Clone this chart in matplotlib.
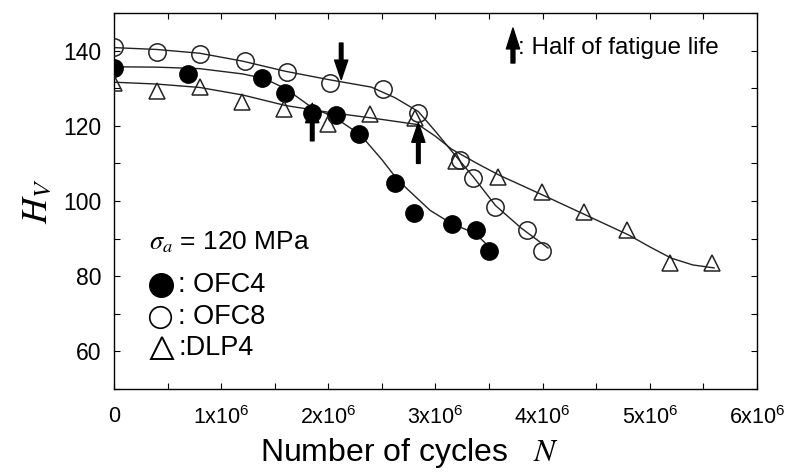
import numpy as np
import matplotlib
matplotlib.use('Agg')
from matplotlib import pyplot as plt
from matplotlib.ticker import MultipleLocator, FixedLocator


# Measured data (N in units of 1e6 cycles)
N_ofc4 = [0, 0.69, 1.38, 1.60, 1.85, 2.07, 2.29, 2.62, 2.80, 3.15, 3.38, 3.50]
Hv_ofc4 = [135.5, 133.9, 132.8, 128.8, 123.5, 122.9, 117.8, 104.8, 96.8, 93.9, 92.3, 86.7]

N_ofc8 = [0, 0.40, 0.80, 1.22, 1.61, 2.02, 2.51, 2.84, 3.23, 3.35, 3.56, 3.85, 3.99]
Hv_ofc8 = [141.0, 139.7, 139.2, 137.3, 134.4, 131.5, 129.8, 123.5, 110.9, 106.2, 98.4, 92.2, 86.7]

N_dlp4 = [0, 0.40, 0.80, 1.19, 1.59, 2.00, 2.39, 2.81, 3.19, 3.58, 3.99, 4.39, 4.79, 5.19, 5.58]
Hv_dlp4 = [131.5, 129.3, 130.2, 126.2, 124.5, 120.5, 123.2, 122.2, 110.7, 106.4, 102.4, 97.1, 92.2, 83.5, 83.5]

# Fitted curves
fit_N_ofc4 = [0, 0.4, 0.8, 1.2, 1.4, 1.6, 1.85, 2.05, 2.3, 2.5, 2.65, 2.95, 3.15, 3.37, 3.52]
fit_Hv_ofc4 = [135.7, 135.6, 135.2, 133.8, 132.6, 129.9, 124.8, 122.4, 117.6, 111.0, 105.5, 97.5, 94.0, 91.4, 87.3]

fit_N_ofc8 = [0, 0.4, 0.8, 1.2, 1.6, 2.0, 2.4, 2.62, 2.84, 3.0, 3.15, 3.35, 3.56, 3.8, 4.05]
fit_Hv_ofc8 = [140.8, 140.3, 139.3, 137.2, 134.5, 132.3, 130.3, 127.5, 123.8, 118.5, 113.3, 106.5, 98.8, 92.8, 87.5]

fit_N_dlp4 = [0, 0.4, 0.8, 1.2, 1.6, 2.0, 2.4, 2.84, 3.0, 3.15, 3.4, 3.6, 4.0, 4.4, 4.8, 5.0, 5.2, 5.4, 5.6]
fit_Hv_dlp4 = [131.6, 131.1, 130.2, 128.2, 125.4, 123.6, 122.1, 120.3, 117.2, 113.8, 109.8, 106.8, 101.6, 96.3, 91.0, 87.8, 84.8, 83.0, 82.2]

# Half of fatigue life arrows: (N, tail Hv, tip Hv)
half_N = [2.12, 1.85, 2.84]
half_tail = [142.0, 116.0, 110.0]
half_tip = [132.3, 126.0, 120.8]

x_ticks = [0, 1, 2, 3, 4, 5, 6]
x_labels = ['0'] + [r'$\mathregular{%dx10^6}$' % i for i in range(1, 7)]
y_ticks = [60, 80, 100, 120, 140]


plt.rcParams['font.family'] = ['Liberation Sans', 'DejaVu Sans']
plt.rcParams['mathtext.fontset'] = 'stix'

fig = plt.figure(figsize=(7.9, 4.73), dpi=100)
ax = fig.add_axes([0.1443, 0.1776, 0.8139, 0.7949])

line_kw = dict(color='#222222', lw=1.0, zorder=2)
ax.plot(fit_N_ofc4, fit_Hv_ofc4, **line_kw)
ax.plot(fit_N_ofc8, fit_Hv_ofc8, **line_kw)
ax.plot(fit_N_dlp4, fit_Hv_dlp4, **line_kw)

ax.plot(N_ofc4, Hv_ofc4, 'o', ms=12.5, mfc='black', mec='black', zorder=3)
ax.plot(N_ofc8, Hv_ofc8, 'o', ms=12.5, mfc='none', mec='#222222', mew=1.1, zorder=3)
ax.plot(N_dlp4, Hv_dlp4, '^', ms=11, mfc='none', mec='#222222', mew=1.1, zorder=3)

for n, t0, t1 in zip(half_N, half_tail, half_tip):
    ax.annotate('', xy=(n, t1), xytext=(n, t0),
                arrowprops=dict(width=2.6, headwidth=9.5, headlength=14, shrink=0,
                                facecolor='black', edgecolor='black'), zorder=4)

# legend-like annotations
ax.annotate('', xy=(0.6205, 0.960), xytext=(0.6205, 0.867), xycoords='axes fraction',
            arrowprops=dict(width=2.8, headwidth=9.5, headlength=15, shrink=0,
                            facecolor='black', edgecolor='black'))
ax.text(0.629, 0.907, ': Half of fatigue life', transform=ax.transAxes,
        fontsize=17.5, va='center', ha='left')

ax.text(0.055, 0.391, r'$\sigma_a$ = 120 MPa', transform=ax.transAxes,
        fontsize=19, va='center', ha='left')
ax.plot([0.073], [0.277], 'o', ms=17, mfc='black', mec='black', transform=ax.transAxes, clip_on=False)
ax.plot([0.071], [0.191], 'o', ms=15.5, mfc='none', mec='black', mew=1.2, transform=ax.transAxes, clip_on=False)
ax.plot([0.074], [0.109], '^', ms=15.5, mfc='none', mec='black', mew=1.4, transform=ax.transAxes, clip_on=False)
ax.text(0.099, 0.277, ': OFC4', transform=ax.transAxes, fontsize=19.5, va='center', ha='left')
ax.text(0.099, 0.191, ': OFC8', transform=ax.transAxes, fontsize=19.5, va='center', ha='left')
ax.text(0.101, 0.109, ':DLP4', transform=ax.transAxes, fontsize=19.5, va='center', ha='left')

ax.set_xlim(0, 6)
ax.set_ylim(50, 150)
ax.xaxis.set_major_locator(FixedLocator(x_ticks))
ax.set_xticklabels(x_labels)
ax.xaxis.set_minor_locator(MultipleLocator(0.5))
ax.yaxis.set_major_locator(FixedLocator(y_ticks))
ax.yaxis.set_minor_locator(MultipleLocator(10))

ax.tick_params(which='both', direction='in', top=True, right=True, length=4, width=0.8)
ax.tick_params(axis='x', labelsize=15.5, pad=12)
ax.tick_params(axis='y', labelsize=16.5, pad=9)
for s in ax.spines.values():
    s.set_linewidth(1.0)

ax.set_xlabel(r'Number of cycles   $N$', fontsize=23, labelpad=5, x=0.459)
ax.set_ylabel(r'$H_V$', fontsize=26, labelpad=6)

fig.savefig('out.png', dpi=100, facecolor='white')
plt.close(fig)
